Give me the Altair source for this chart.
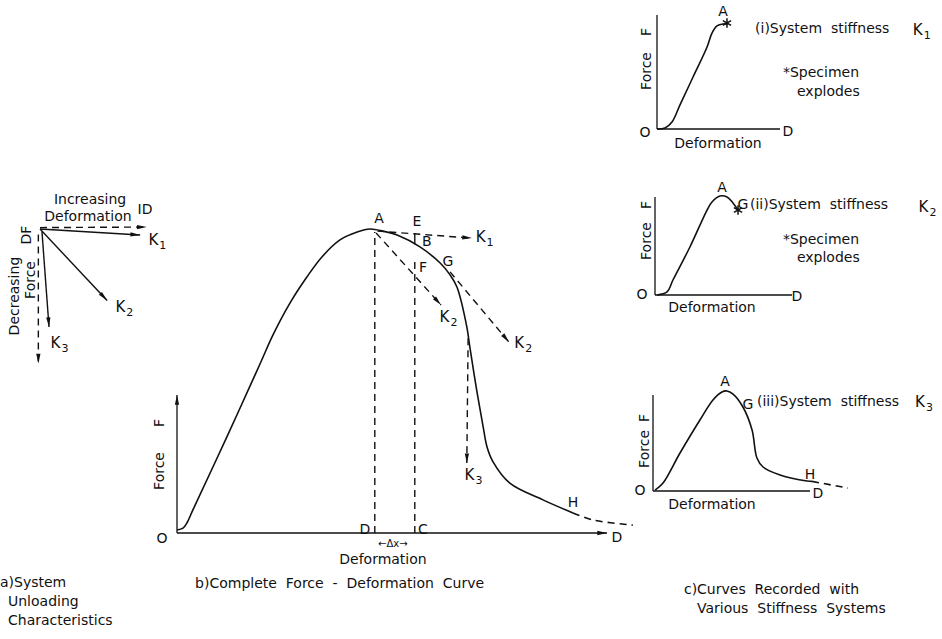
import math
import altair as alt
import pandas as pd

FONT = "DejaVu Sans"
BLACK = "#111111"

# Pixel placement of each panel's 0..100 data domain (layout only)
PANELS = {
    "a": ([40, 150], [229, 89]),
    "b": ([177, 607], [533, 229]),
    "c1": ([657, 780], [129, 15]),
    "c2": ([655, 792], [295, 197]),
    "c3": ([653, 810], [491, 395]),
}

ARROW = "M0,0L0.55,2.5L-0.55,2.5Z"
STAR = "M0,-1L0,1M-0.87,-0.5L0.87,0.5M-0.87,0.5L0.87,-0.5"

# ---------------- panel a : unloading characteristics ----------------
a_arrow_solid = {
    "K1": ([0, 91], [0, -4.3]),
    "K2": ([0, 61], [0, -51]),
    "K3": ([1.8, 8.2], [-2, -70]),
}
a_arrow_dash = {
    "ID": ([0, 97], [1, 1.4]),
    "DF": ([-1.5, -1.5], [-4, -96]),
}
a_labels = [("Increasing", 45.5, 20.7), ("Deformation", 43.6, 8.6), ("ID", 95.5, 13.6)]
a_k = [("1", 103.0, -7.9), ("2", 73.0, -55.7), ("3", 14.0, -81.4)]
a_rot_labels = [("DF", -11.8, -4.3), ("Decreasing", -22.7, -47.9), ("Force", -8.2, -36.4)]
a_caption = [("a)System", -36.4, -252.9), ("Unloading", -29.1, -266.4), ("Characteristics", -29.1, -280.0)]

# ---------------- panel b : complete force-deformation curve ----------------
b_curve_x = [0, 1.4, 2.3, 3.7, 11.6, 19.3, 22.3, 26.3, 30.2, 33.7, 37.9, 41.9, 44.9,
             47.9, 51.2, 56.5, 61.2, 63.5, 65.1, 67.4, 68.1, 69.8, 71.2, 72.1, 73.5, 77.4,
             85.1, 92.1]
b_curve_y = [1.0, 1.6, 3.3, 7.6, 31.6, 55.6, 65.1, 75.7, 84.2, 90.8, 96.4, 99.0, 100,
             99.3, 98.0, 94.1, 88.8, 84.9, 80.9, 67.8, 61.2, 46.1, 34.9, 28.3, 23.4, 16.4,
             10.9, 6.6]
b_tail_x = [92.1, 96.7, 106]
b_tail_y = [6.6, 4.3, 2.6]
b_axes = {"x": ([0, 100], [0, 0]), "y": ([0, 0], [0, 45.4])}
b_dash_lines = {"DA": ([46.0, 46.0], [0, 99]), "CF": ([55.3, 55.3], [0, 90.5])}
b_tick = {"EB": ([55.3, 55.3], [98.7, 95.0])}
b_dash_arrows = {
    "K1": ([46.6, 68.6], [99.3, 97.0]),
    "K2a": ([46.3, 61.4], [98.7, 75.0]),
    "K2b": ([63.5, 77.2], [85.9, 62.8]),
    "K3": ([67.7, 67.4], [64.1, 23.0]),
}
b_labels = [("A", 47.0, 103.3), ("E", 55.8, 102.3), ("B", 58.1, 95.7), ("F", 57.2, 87.2),
            ("G", 63.0, 89.1), ("H", 92.1, 9.9),
            ("D", 43.7, 1.0), ("C", 57.2, 1.0), ("O", -3.5, -2.0), ("D", 102.3, -1.6),
            ("Deformation", 47.9, -8.9)]
b_k = [("1", 70.6, 97.4), ("2", 62.2, 71.1), ("2", 79.6, 62.5), ("3", 68.0, 19.1)]
b_small = [("\u2190\u0394x\u2192", 50.2, -3.6)]
b_rot_labels = [("Force", -4.0, 20.4), ("F", -4.0, 36.2)]
b_caption = [("b)Complete\u00a0\u00a0Force\u00a0\u00a0-\u00a0\u00a0Deformation\u00a0\u00a0Curve", 4.2, -16.8)]

# ---------------- panel c : recorded curves ----------------
c1_x = [0, 6.5, 12.2, 18.7, 29.3, 40.7, 44.7, 48.8, 53.7, 56.9]
c1_y = [0, 0.9, 6.1, 21.1, 45.6, 71.9, 84.2, 90.4, 92.1, 92.1]
c1_star = [(56.9, 93.0)]
c1_labels = [("A", 53.7, 102.6), ("O", -9.8, -3.5), ("D", 106.5, -2.6), ("Deformation", 49.6, -13.2)]
c1_left = [("(i)System\u00a0\u00a0stiffness", 79.7, 87.7),
           ("*Specimen", 102.4, 49.1), ("explodes", 113.8, 32.5)]
c1_k = [("1", 212.0, 86.8)]
c1_rot = [("Force", -8.1, 50.9), ("F", -8.1, 85.1)]

c2_x = [1.5, 8.8, 13.1, 25.5, 38.0, 41.6, 47.4, 52.6, 56.9, 60.6]
c2_y = [0, 3.1, 15.3, 49.0, 86.7, 94.9, 101, 100, 93.9, 86.7]
c2_star = [(60.6, 86.7)]
c2_labels = [("A", 48.9, 109.2), ("G", 64.2, 91.8), ("O", -9.5, 0), ("D", 103.6, -2),
             ("Deformation", 41.6, -13.3)]
c2_left = [("(ii)System\u00a0\u00a0stiffness", 69.3, 91.8),
           ("*Specimen", 93.4, 56.1), ("explodes", 103.6, 37.8)]
c2_k = [("2", 196.0, 90.0)]
c2_rot = [("Force", -5.8, 55.1), ("F", -5.8, 91.8)]

c3_x = [1.3, 6.4, 17.2, 29.9, 38.2, 43.9, 47.1, 51.0, 57.3, 63.1, 66.2, 70.1, 80.9, 98.1, 101.3]
c3_y = [1, 8.3, 39.6, 74.0, 94.8, 103.1, 104.2, 101.0, 87.5, 63.5, 34.4, 25.0, 16.7, 10.4, 10.0]
c3_tail_x = [101.3, 124.2]
c3_tail_y = [10.0, 3.1]
c3_labels = [("A", 45.9, 113.5), ("G", 60.5, 89.6), ("H", 100.0, 16.7), ("D", 105.1, -3.1),
             ("O", -8.3, 0), ("Deformation", 37.6, -14.6)]
c3_left = [("(iii)System\u00a0\u00a0stiffness", 66.2, 92.7)]
c3_k = [("3", 170.0, 92.7)]
c3_rot = [("Force", -5.1, 43.8), ("F", -5.1, 76.0)]
c_caption = [("c)Curves\u00a0\u00a0Recorded\u00a0\u00a0with", 19.7, -103.1),
             ("Various\u00a0\u00a0Stiffness\u00a0\u00a0Systems", 28.0, -122.9)]
small_axes = {"x": ([0, 100], [0, 0]), "y": ([0, 0], [0, 100])}


def pos(p):
    xr, yr = PANELS[p]
    return dict(
        x=alt.X("x:Q", scale=alt.Scale(domain=[0, 100], range=xr, nice=False, zero=False), axis=None),
        y=alt.Y("y:Q", scale=alt.Scale(domain=[0, 100], range=yr, nice=False, zero=False), axis=None),
    )


def line_layer(p, segs, dash=False, width=1.5, interp="linear"):
    rows = []
    for name, (xs, ys) in segs.items():
        for i, (x, y) in enumerate(zip(xs, ys)):
            rows.append(dict(seg=name, i=i, x=x, y=y))
    kw = dict(color=BLACK, strokeWidth=width, interpolate=interp)
    if dash:
        kw["strokeDash"] = [7, 5]
    return alt.Chart(pd.DataFrame(rows)).mark_line(**kw).encode(
        detail="seg:N", order="i:Q", **pos(p))


def head_layer(p, segs):
    xr, yr = PANELS[p]
    kx = (xr[1] - xr[0]) / 100.0
    ky = (yr[0] - yr[1]) / 100.0
    rows = []
    for name, (xs, ys) in segs.items():
        dx = (xs[-1] - xs[-2]) * kx
        dy = (ys[-1] - ys[-2]) * ky
        rows.append(dict(x=xs[-1], y=ys[-1], ang=math.degrees(math.atan2(dx, dy)) % 360))
    return alt.Chart(pd.DataFrame(rows)).mark_point(
        shape=ARROW, filled=True, color=BLACK, size=60, opacity=1, strokeWidth=0
    ).encode(angle=alt.Angle("ang:Q", scale=None), **pos(p))


def star_layer(p, pts):
    df = pd.DataFrame(pts, columns=["x", "y"])
    return alt.Chart(df).mark_point(
        shape=STAR, filled=False, color=BLACK, size=90, opacity=1, strokeWidth=1.5
    ).encode(**pos(p))


def text_layer(p, items, align="center", angle=0, size=14):
    df = pd.DataFrame(items, columns=["t", "x", "y"])
    kw = dict(font=FONT, fontSize=size, color=BLACK, align=align, baseline="middle")
    if angle:
        kw["angle"] = angle
    return alt.Chart(df).mark_text(**kw).encode(text="t:N", **pos(p))


def k_layer(p, items):
    """Letter K with a subscript digit (items hold the digit and the K's centre)."""
    df = pd.DataFrame(items, columns=["t", "x", "y"])
    k = alt.Chart(df).mark_text(font=FONT, fontSize=15, color=BLACK, align="center",
                                baseline="middle", text="K").encode(**pos(p))
    sub = alt.Chart(df).mark_text(font=FONT, fontSize=11, color=BLACK, align="left",
                                  baseline="middle", dx=6, dy=6).encode(text="t:N", **pos(p))
    return alt.layer(k, sub)


def curve_layer(p, xs, ys, dash=False):
    return line_layer(p, {"c": (xs, ys)}, dash=dash, width=1.6, interp="catmull-rom")


panel_a = alt.layer(
    line_layer("a", a_arrow_solid, width=1.4),
    line_layer("a", a_arrow_dash, dash=True, width=1.4),
    head_layer("a", a_arrow_solid),
    head_layer("a", a_arrow_dash),
    text_layer("a", a_labels),
    k_layer("a", a_k),
    text_layer("a", a_rot_labels, angle=270),
    text_layer("a", a_caption, align="left"),
)

panel_b = alt.layer(
    line_layer("b", b_axes, width=1.3),
    head_layer("b", b_axes),
    curve_layer("b", b_curve_x, b_curve_y),
    curve_layer("b", b_tail_x, b_tail_y, dash=True),
    line_layer("b", b_dash_lines, dash=True, width=1.4),
    line_layer("b", b_tick, width=1.4),
    line_layer("b", b_dash_arrows, dash=True, width=1.4),
    head_layer("b", b_dash_arrows),
    text_layer("b", b_labels),
    k_layer("b", b_k),
    text_layer("b", b_small, size=10),
    text_layer("b", b_rot_labels, angle=270),
    text_layer("b", b_caption, align="left"),
)

panel_c1 = alt.layer(
    line_layer("c1", small_axes, width=1.3),
    curve_layer("c1", c1_x, c1_y),
    star_layer("c1", c1_star),
    text_layer("c1", c1_labels),
    text_layer("c1", c1_left, align="left"),
    k_layer("c1", c1_k),
    text_layer("c1", c1_rot, angle=270),
)

panel_c2 = alt.layer(
    line_layer("c2", small_axes, width=1.3),
    curve_layer("c2", c2_x, c2_y),
    star_layer("c2", c2_star),
    text_layer("c2", c2_labels),
    text_layer("c2", c2_left, align="left"),
    k_layer("c2", c2_k),
    text_layer("c2", c2_rot, angle=270),
)

panel_c3 = alt.layer(
    line_layer("c3", small_axes, width=1.3),
    curve_layer("c3", c3_x, c3_y),
    curve_layer("c3", c3_tail_x, c3_tail_y, dash=True),
    text_layer("c3", c3_labels),
    text_layer("c3", c3_left, align="left"),
    k_layer("c3", c3_k),
    text_layer("c3", c3_rot, angle=270),
    text_layer("c3", c_caption, align="left"),
)

chart = alt.layer(panel_a, panel_b, panel_c1, panel_c2, panel_c3).resolve_scale(
    x="independent", y="independent"
).properties(
    width=942, height=639, padding=0, autosize=alt.AutoSizeParams(type="none"),
    background="white",
).configure_view(stroke=None)

chart.save("out.html", embed_options={"renderer": "svg", "actions": False})
